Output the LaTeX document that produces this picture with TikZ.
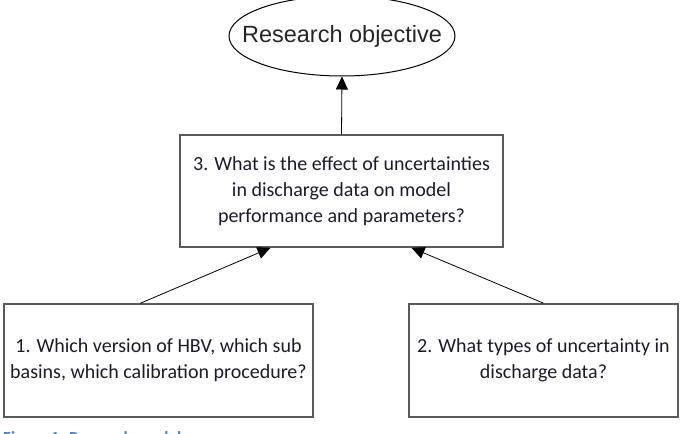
\documentclass[tikz,border=0pt]{standalone}
\usepackage{fontspec}
\setmainfont{Carlito}
\newfontfamily\arialfont{Liberation Sans}
\usetikzlibrary{arrows.meta,shapes.geometric}
\definecolor{boxgray}{HTML}{5A5A5A}
\definecolor{textdark}{HTML}{1E1A2A}
\definecolor{captionblue}{HTML}{4F81BD}

\begin{document}
\begin{tikzpicture}[x=1pt,y=-1pt,
 qbox/.style={draw=boxgray,line width=1.6pt,fill=white,text=textdark,
  align=center,inner sep=0pt,font=\fontsize{20}{26}\selectfont},
 goal/.style={ellipse,draw=black,line width=1pt,inner xsep=-40pt,inner ysep=0pt,
  font=\arialfont\fontsize{23.5}{26}\selectfont,text=black!85},
 link/.style={black,line width=0.8pt,-{Triangle[length=13pt,width=12pt]}}]
 \useasboundingbox (0,0) rectangle (689,434);
 \node[goal,minimum width=226pt,minimum height=80pt] (objective) at (342,36)
  {Research objective};
 \node[qbox,minimum width=323pt,minimum height=112pt] (q3) at (341.5,191)
  {3. What is the effect of uncertainties\\in discharge data on model\\
  performance and parameters?};
 \node[qbox,minimum width=309pt,minimum height=113pt] (q1) at (158.5,360.5)
  {1. Which version of HBV, which sub\\basins, which calibration procedure?};
 \node[qbox,minimum width=269pt,minimum height=113pt] (q2) at (543.5,360.5)
  {2. What types of uncertainty in\\discharge data?};
 \draw[link] (q3.north) -- (objective.south);
 \draw[link] ([xshift=-18pt]q1.north) -- ([xshift=-71pt]q3.south);
 \draw[link] (q2.north) -- ([xshift=70pt]q3.south);
 % caption, cut off by the page edge
 \node[anchor=north west,inner sep=0pt,text=captionblue,
  font=\bfseries\fontsize{17}{20}\selectfont] (caption) at (3,431)
  {Figure 1: Research model};
\end{tikzpicture}
\end{document}
